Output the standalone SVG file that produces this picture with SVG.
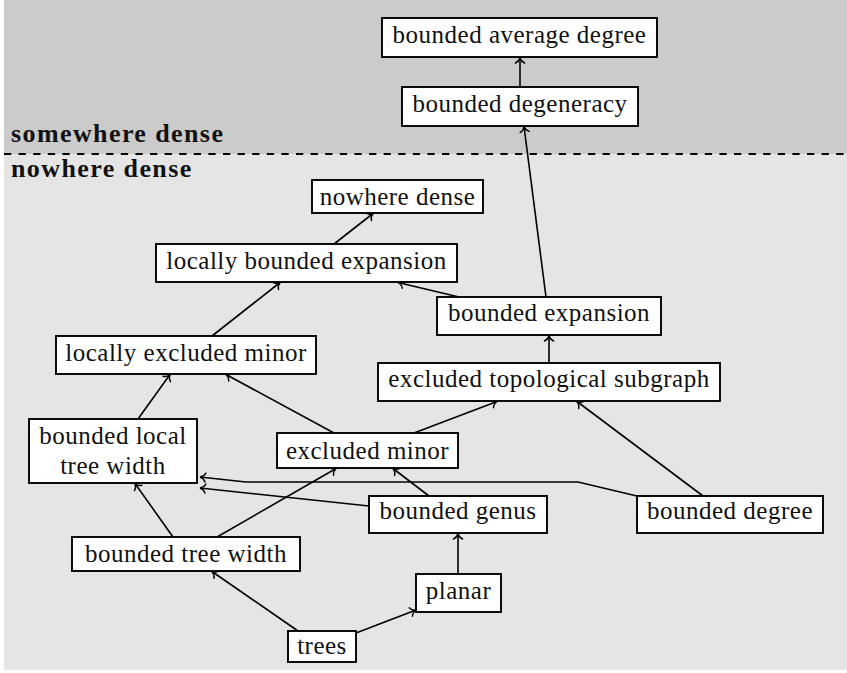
<svg xmlns="http://www.w3.org/2000/svg" width="847" height="673" viewBox="0 0 847 673">
  <style>
    .box { fill: #ffffff; stroke: #000000; stroke-width: 1.9; }
    .lbl { font-size: 25px; letter-spacing: 0.5px; fill: #111111; text-anchor: middle; }
    .region { font-size: 26px; font-weight: bold; letter-spacing: 1.4px; fill: #111111; }
    .edge { fill: none; stroke: #000000; stroke-width: 1.6; marker-end: url(#tip); }
  </style>
  <defs>
    <marker id="tip" markerUnits="userSpaceOnUse" viewBox="-8 -7 10 14" refX="0" refY="0" markerWidth="10" markerHeight="14" orient="auto" overflow="visible">
      <path d="M -5.5,-4.6 C -4.4,-1.8 -1.6,-0.4 0,0 C -1.6,0.4 -4.4,1.8 -5.5,4.6" fill="none" stroke="#000000" stroke-width="1.4" stroke-linecap="round"/>
    </marker>
  </defs>

  <!-- background bands -->
  <rect x="0" y="0" width="847" height="673" fill="#ffffff"/>
  <rect x="4" y="0" width="843" height="154" fill="#cbcbcb"/>
  <rect x="4" y="154" width="843" height="516" fill="#e5e5e5"/>
  <line x1="4" y1="154" x2="847" y2="154" stroke="#000000" stroke-width="2" stroke-dasharray="7.3 7.3"/>

  <text class="region" x="11" y="141.5" font-family="Liberation Serif, serif">somewhere dense</text>
  <text class="region" x="11" y="177" font-family="Liberation Serif, serif">nowhere dense</text>

  <!-- implications -->
  <g id="connectors">
    <path class="edge" d="M520,87 L520,57.5"/>
    <path class="edge" d="M546,297 L524,126.5"/>
    <path class="edge" d="M334,244 L373,213.5"/>
    <path class="edge" d="M459,297 L398,282.5"/>
    <path class="edge" d="M212,336 L280,282.5"/>
    <path class="edge" d="M549,363 L549,335.5"/>
    <path class="edge" d="M138,419 L170,374.5"/>
    <path class="edge" d="M334,433 L226,374.5"/>
    <path class="edge" d="M414,433 L497,401.5"/>
    <path class="edge" d="M703,496 L577,401.5"/>
    <path class="edge" d="M637,496 L578,482 L246,482 L200,477"/>
    <path class="edge" d="M369,506 L200,488"/>
    <path class="edge" d="M429,496 L393,468.5"/>
    <path class="edge" d="M173,537 L135,483.5"/>
    <path class="edge" d="M217,537 L336,468.5"/>
    <path class="edge" d="M458,574 L458,533.5"/>
    <path class="edge" d="M298,631 L212,571.5"/>
    <path class="edge" d="M356,633 L416,610"/>
  </g>

  <!-- graph classes -->
  <g id="bounded-average-degree">
    <rect class="box" x="382" y="18" width="275" height="39"/>
    <text class="lbl" x="519.5" y="43" font-family="Liberation Serif, serif">bounded average degree</text>
  </g>
  <g id="bounded-degeneracy">
    <rect class="box" x="402" y="87" width="236" height="39"/>
    <text class="lbl" x="520" y="112" font-family="Liberation Serif, serif">bounded degeneracy</text>
  </g>
  <g id="nowhere-dense">
    <rect class="box" x="312" y="180" width="171" height="33"/>
    <text class="lbl" x="397.5" y="204.5" font-family="Liberation Serif, serif">nowhere dense</text>
  </g>
  <g id="locally-bounded-expansion">
    <rect class="box" x="156" y="244" width="301" height="38"/>
    <text class="lbl" x="306.5" y="268.5" font-family="Liberation Serif, serif">locally bounded expansion</text>
  </g>
  <g id="bounded-expansion">
    <rect class="box" x="437" y="297" width="224" height="38"/>
    <text class="lbl" x="549" y="321" font-family="Liberation Serif, serif">bounded expansion</text>
  </g>
  <g id="locally-excluded-minor">
    <rect class="box" x="56" y="336" width="260" height="38"/>
    <text class="lbl" x="186" y="361" font-family="Liberation Serif, serif">locally excluded minor</text>
  </g>
  <g id="excluded-topological-subgraph">
    <rect class="box" x="378" y="363" width="342" height="38"/>
    <text class="lbl" x="549" y="387" font-family="Liberation Serif, serif">excluded topological subgraph</text>
  </g>
  <g id="bounded-local-tree-width">
    <rect class="box" x="29" y="419" width="168" height="64"/>
    <text class="lbl" x="113" y="444" font-family="Liberation Serif, serif">bounded local</text>
    <text class="lbl" x="113" y="474" font-family="Liberation Serif, serif">tree width</text>
  </g>
  <g id="excluded-minor">
    <rect class="box" x="277" y="433" width="181" height="35"/>
    <text class="lbl" x="367.5" y="459" font-family="Liberation Serif, serif">excluded minor</text>
  </g>
  <g id="bounded-genus">
    <rect class="box" x="369" y="496" width="178" height="37"/>
    <text class="lbl" x="458" y="519" font-family="Liberation Serif, serif">bounded genus</text>
  </g>
  <g id="bounded-degree">
    <rect class="box" x="637" y="496" width="186" height="37"/>
    <text class="lbl" x="730" y="519" font-family="Liberation Serif, serif">bounded degree</text>
  </g>
  <g id="bounded-tree-width">
    <rect class="box" x="72" y="537" width="228" height="34"/>
    <text class="lbl" x="186" y="562" font-family="Liberation Serif, serif">bounded tree width</text>
  </g>
  <g id="planar">
    <rect class="box" x="416" y="574" width="85" height="38"/>
    <text class="lbl" x="458.5" y="599" font-family="Liberation Serif, serif">planar</text>
  </g>
  <g id="trees">
    <rect class="box" x="288" y="631" width="68" height="31"/>
    <text class="lbl" x="322" y="654" font-family="Liberation Serif, serif">trees</text>
  </g>
</svg>
